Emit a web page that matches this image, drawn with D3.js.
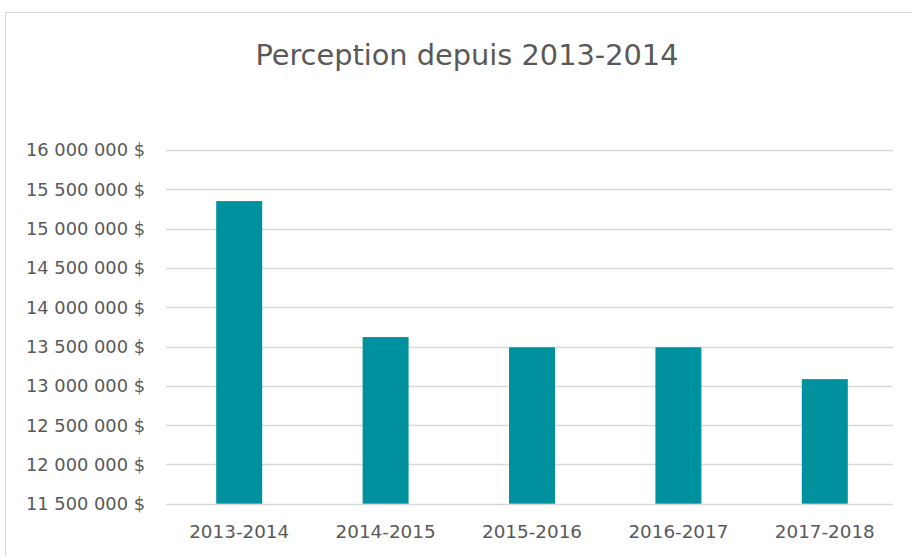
<!DOCTYPE html>
<html>
<head>
<meta charset="utf-8">
<script src="https://cdn.jsdelivr.net/npm/d3@7"></script>
<style>
  body { margin: 0; background: #fff; }
  text { font-family: "Liberation Sans Narrow", "DejaVu Sans Condensed", "Open Sans", sans-serif; }
</style>
</head>
<body>
<script>
const categories = ["2013-2014", "2014-2015", "2015-2016", "2016-2017", "2017-2018"];
const values = [15350000, 13620000, 13490000, 13490000, 13085000];
const yTicks = [11500000, 12000000, 12500000, 13000000, 13500000, 14000000, 14500000, 15000000, 15500000, 16000000];
const title = "Perception depuis 2013-2014";

document.addEventListener("DOMContentLoaded", drawChart);

function drawChart () {
  const width = 912, height = 557;
  const svg = d3.select("body").append("svg")
    .attr("width", width)
    .attr("height", height);

  // chart frame
  svg.append("rect")
    .attr("x", 5.5).attr("y", 12.5)
    .attr("width", 920).attr("height", 560)
    .attr("fill", "none")
    .attr("stroke", "#d9d9d9");

  svg.append("text")
    .attr("x", 467).attr("y", 65)
    .attr("text-anchor", "middle")
    .attr("font-size", 28)
    .attr("fill", "#595959")
    .attr("textLength", 423)
    .attr("lengthAdjust", "spacingAndGlyphs")
    .text(title);

  const left = 166, right = 898;
  const y = d3.scaleLinear()
    .domain([11500000, 16000000])
    .range([503.7, 150]);

  const x = d3.scaleBand()
    .domain(categories)
    .range([left, right])
    .paddingInner(0.686)
    .paddingOuter(0.343);

  // gridlines
  svg.append("g")
    .selectAll("line")
    .data(yTicks)
    .join("line")
    .attr("x1", left).attr("x2", 893)
    .attr("y1", d => Math.round(y(d)) + 0.5)
    .attr("y2", d => Math.round(y(d)) + 0.5)
    .attr("stroke", "#d9d9d9")
    .attr("stroke-width", 1.3);

  const fmt = d => d3.format(",")(d).replace(/,/g, " ") + " $";

  const yAxis = svg.append("g")
    .attr("transform", `translate(${left - 21},0)`)
    .call(d3.axisLeft(y).tickValues(yTicks).tickFormat(fmt).tickSize(0).tickPadding(0));
  yAxis.select(".domain").remove();
  yAxis.selectAll("text")
    .attr("font-size", 17)
    .attr("fill", "#595959")
    .attr("dy", "0.35em")
    .attr("textLength", 119)
    .attr("lengthAdjust", "spacingAndGlyphs");

  svg.append("g")
    .selectAll("rect")
    .data(values)
    .join("rect")
    .attr("x", (d, i) => x(categories[i]))
    .attr("y", d => y(d))
    .attr("width", x.bandwidth())
    .attr("height", d => y(11500000) - y(d))
    .attr("fill", "#00919e");

  const xAxis = svg.append("g")
    .attr("transform", `translate(0,${y(11500000)})`)
    .call(d3.axisBottom(x).tickSize(0).tickPadding(0));
  xAxis.select(".domain").remove();
  xAxis.selectAll("text")
    .attr("font-size", 17)
    .attr("fill", "#595959")
    .attr("y", 22)
    .attr("dy", "0.71em")
    .attr("textLength", 100)
    .attr("lengthAdjust", "spacingAndGlyphs");
}
</script>
</body>
</html>
